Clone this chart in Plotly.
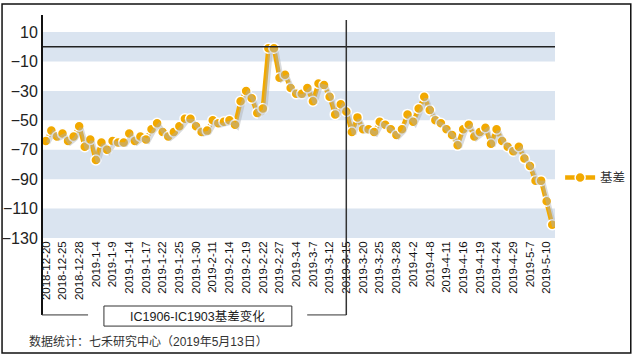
import plotly.graph_objects as go

dates = [
    "2018-12-20", "2018-12-21", "2018-12-24", "2018-12-25", "2018-12-26", "2018-12-27", "2018-12-28",
    "2019-1-2", "2019-1-3", "2019-1-4", "2019-1-7", "2019-1-8", "2019-1-9", "2019-1-10", "2019-1-11",
    "2019-1-14", "2019-1-15", "2019-1-16", "2019-1-17", "2019-1-18", "2019-1-21", "2019-1-22",
    "2019-1-23", "2019-1-24", "2019-1-25", "2019-1-28", "2019-1-29", "2019-1-30", "2019-1-31",
    "2019-2-1", "2019-2-11", "2019-2-12", "2019-2-13", "2019-2-14", "2019-2-15", "2019-2-18",
    "2019-2-19", "2019-2-20", "2019-2-21", "2019-2-22", "2019-2-25", "2019-2-26", "2019-2-27",
    "2019-2-28", "2019-3-1", "2019-3-4", "2019-3-5", "2019-3-6", "2019-3-7", "2019-3-8",
    "2019-3-11", "2019-3-12", "2019-3-13", "2019-3-14", "2019-3-15", "2019-3-18", "2019-3-19",
    "2019-3-20", "2019-3-21", "2019-3-22", "2019-3-25", "2019-3-26", "2019-3-27", "2019-3-28",
    "2019-3-29", "2019-4-1", "2019-4-2", "2019-4-3", "2019-4-4", "2019-4-8", "2019-4-9",
    "2019-4-10", "2019-4-11", "2019-4-12", "2019-4-15", "2019-4-16", "2019-4-17", "2019-4-18",
    "2019-4-19", "2019-4-22", "2019-4-23", "2019-4-24", "2019-4-25", "2019-4-26", "2019-4-29",
    "2019-4-30", "2019-5-6", "2019-5-7", "2019-5-8", "2019-5-9", "2019-5-10", "2019-5-13",
]

basis = [
    -64, -57, -61, -59, -64, -61, -54, -68, -63, -77,
    -65, -70, -64, -65, -65, -59, -64, -61, -63, -56,
    -52, -58, -61, -58, -54, -49, -49, -54, -58, -57,
    -50, -52, -51, -50, -53, -37, -30, -35, -45, -42,
    -1, -1, -21, -19, -28, -32, -32, -28, -37, -25,
    -26, -34, -46, -39, -44, -58, -48, -56, -56, -58,
    -51, -53, -56, -60, -56, -46, -51, -42, -34, -43,
    -50, -52, -56, -60, -67, -56, -53, -61, -58, -55,
    -66, -56, -64, -68, -71, -68, -76, -81, -91, -91,
    -105, -121,
]

tick_labels = [
    "2018-12-20", "2018-12-25", "2018-12-28", "2019-1-4", "2019-1-9", "2019-1-14", "2019-1-17",
    "2019-1-22", "2019-1-25", "2019-1-30", "2019-2-11", "2019-2-14", "2019-2-19", "2019-2-22",
    "2019-2-27", "2019-3-4", "2019-3-7", "2019-3-12", "2019-3-15", "2019-3-20", "2019-3-25",
    "2019-3-28", "2019-4-2", "2019-4-8", "2019-4-11", "2019-4-16", "2019-4-19", "2019-4-24",
    "2019-4-29", "2019-5-7", "2019-5-10",
]

y_ticks = [10, -10, -30, -50, -70, -90, -110, -130]
band_pairs = [(10, -10), (-30, -50), (-70, -90), (-110, -130)]

series_name = "基差"
axis_title = "IC1906-IC1903基差变化"
source_note = "数据统计：七禾研究中心（2019年5月13日）"
expiry_date = "2019-3-15"

ORANGE = "#F2A900"
BAND = "#DAE4F0"
FONT = "Liberation Sans, Arial, Noto Sans CJK SC, sans-serif"

n = len(dates)
y_range = [-130, 21.6]
x_range = [-0.5, n - 0.5]
# shadow offsets (in axis units): ~2px right, ~2px down
dx = 0.4
dy = 1.4

fig = go.Figure()

# shadow of the line (same data on a shifted overlay axis)
fig.add_trace(go.Scatter(
    x=dates, y=basis, mode="lines",
    line=dict(color="rgba(170,175,180,0.45)", width=4.5),
    xaxis="x2", yaxis="y2", showlegend=False, hoverinfo="skip",
))

fig.add_trace(go.Scatter(
    x=dates, y=basis, mode="lines+markers", name=series_name,
    line=dict(color=ORANGE, width=4.5),
    marker=dict(color=ORANGE, size=10, line=dict(color="white", width=1.5)),
))

shapes = []
for top, bot in band_pairs:
    shapes.append(dict(type="rect", xref="paper", yref="y", x0=0, x1=1, y0=bot, y1=top,
                       fillcolor=BAND, line=dict(width=0), layer="below"))
# zero line
shapes.append(dict(type="line", xref="paper", yref="y", x0=0, x1=1, y0=0, y1=0,
                   line=dict(color="#222222", width=1.5)))
# expiry vertical line
exp_idx = dates.index(expiry_date)
shapes.append(dict(type="line", xref="x", yref="paper", x0=exp_idx, x1=exp_idx, y0=0.978, y1=-0.345,
                   line=dict(color="#333333", width=1.5)))
exp_paper = (exp_idx - x_range[0]) / (x_range[1] - x_range[0])
# bracket lines around axis title box
shapes.append(dict(type="line", xref="paper", yref="paper", x0=0.516, x1=exp_paper, y0=-0.345, y1=-0.345,
                   line=dict(color="#333333", width=1)))
shapes.append(dict(type="line", xref="paper", yref="paper", x0=-0.002, x1=-0.002, y0=0, y1=-0.345,
                   line=dict(color="#111111", width=2)))
shapes.append(dict(type="line", xref="paper", yref="paper", x0=-0.002, x1=0.088, y0=-0.345, y1=-0.345,
                   line=dict(color="#333333", width=1)))
# axis title box
shapes.append(dict(type="rect", xref="paper", yref="paper", x0=0.119, x1=0.486, y0=-0.305, y1=-0.395,
                   line=dict(color="#333333", width=1), fillcolor="white"))
# outer border
shapes.append(dict(type="rect", xref="paper", yref="paper", x0=-0.080, x1=1.148, y0=1.049, y1=-0.516,
                   line=dict(color="#111111", width=1.5), fillcolor="rgba(0,0,0,0)"))

annotations = [
    dict(text=axis_title, xref="paper", yref="paper", x=0.3027, y=-0.35, showarrow=False,
         xanchor="center", yanchor="middle", font=dict(size=12.5, color="#222222", family=FONT)),
    dict(text=source_note, xref="paper", yref="paper", x=-0.032, y=-0.466, showarrow=False,
         xanchor="left", yanchor="middle", font=dict(size=12, color="#333333", family=FONT)),
]

fig.update_layout(
    width=635, height=358, autosize=False,
    margin=dict(l=43, r=80, t=15, b=120, pad=0, autoexpand=False),
    paper_bgcolor="white", plot_bgcolor="white",
    font=dict(family=FONT, color="#222222"),
    shapes=shapes, annotations=annotations,
    showlegend=True,
    legend=dict(x=1.01, y=0.27, xanchor="left", yanchor="middle",
                font=dict(size=12.5, color="#333333", family=FONT),
                bgcolor="rgba(0,0,0,0)", itemwidth=30),
    xaxis=dict(type="category", range=x_range, tickmode="array", tickvals=tick_labels,
               ticktext=tick_labels, tickangle=-90, showgrid=False, zeroline=False,
               showline=False, ticks="", automargin=False,
               tickfont=dict(size=11.5, color="#111111", family=FONT)),
    yaxis=dict(range=y_range, tickmode="array", tickvals=y_ticks, showgrid=False, zeroline=False,
               showline=True, linecolor="#111111", linewidth=2, ticks="", automargin=False,
               tickfont=dict(size=16, color="#222222", family=FONT)),
    xaxis2=dict(type="category", range=[x_range[0] - dx, x_range[1] - dx], overlaying="x",
                visible=False, automargin=False),
    yaxis2=dict(range=[y_range[0] + dy, y_range[1] + dy], overlaying="y", visible=False,
                automargin=False),
)

fig.write_html("out.html", config={"displayModeBar": False},
               post_script="document.body.style.margin='0';document.body.style.overflow='hidden';")
